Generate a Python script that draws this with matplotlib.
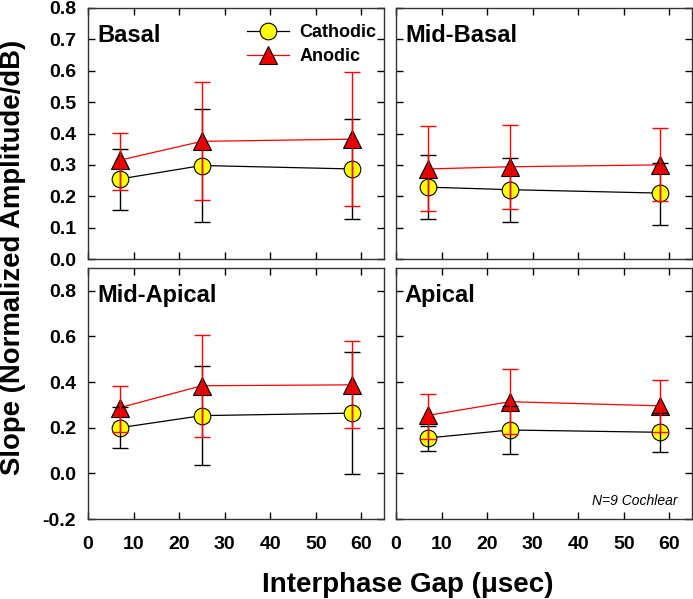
import numpy as np
import matplotlib.pyplot as plt

plt.rcParams['font.family'] = ['Liberation Sans', 'DejaVu Sans']
plt.rcParams['font.weight'] = 'bold'

ipg = [7, 25, 58]
regions = ['Basal', 'Mid-Basal', 'Mid-Apical', 'Apical']

# mean, lower end, upper end of error bars
cath_mean = [[0.255, 0.298, 0.287], [0.229, 0.221, 0.210], [0.200, 0.253, 0.264], [0.155, 0.190, 0.180]]
cath_low = [[0.157, 0.119, 0.127], [0.128, 0.119, 0.109], [0.111, 0.036, -0.001], [0.098, 0.086, 0.092]]
cath_high = [[0.350, 0.479, 0.446], [0.331, 0.322, 0.305], [0.289, 0.470, 0.530], [0.209, 0.294, 0.266]]
anod_mean = [[0.315, 0.375, 0.382], [0.287, 0.294, 0.300], [0.288, 0.384, 0.388], [0.254, 0.314, 0.296]]
anod_low = [[0.221, 0.187, 0.168], [0.152, 0.159, 0.184], [0.181, 0.159, 0.197], [0.149, 0.172, 0.182]]
anod_high = [[0.401, 0.564, 0.597], [0.423, 0.427, 0.417], [0.384, 0.607, 0.580], [0.350, 0.458, 0.409]]

W, H = 693, 599
fig = plt.figure(figsize=(W/100, H/100), dpi=100)

# panel boxes in pixels: left, top, right, bottom
boxes = [(88, 8, 384, 259), (396, 8, 692, 259), (88, 268, 384, 519), (396, 268, 692, 519)]

for k in range(4):
    l, t, r, b = boxes[k]
    ax = fig.add_axes([l/W, 1-b/H, (r-l)/W, (b-t)/H])
    cm = np.array(cath_mean[k]); am = np.array(anod_mean[k])
    cerr = [cm-np.array(cath_low[k]), np.array(cath_high[k])-cm]
    aerr = [am-np.array(anod_low[k]), np.array(anod_high[k])-am]
    h1, = ax.plot(ipg, cm, '-o', color='black', lw=0.9, marker='o', ms=12,
                  mfc='#ffff00', mec='black', mew=0.8, zorder=3, label='Cathodic')
    h2, = ax.plot(ipg, am, '-^', color='red', lw=0.9, marker='^', ms=13,
                  mfc='#ee0000', mec='black', mew=0.8, zorder=4, label='Anodic')
    ax.errorbar(ipg, cm, yerr=cerr, fmt='none', ecolor='black', elinewidth=1, capsize=6, capthick=1, zorder=5)
    ax.errorbar(ipg, am, yerr=aerr, fmt='none', ecolor='red', elinewidth=1, capsize=6, capthick=1, zorder=6)
    ax.set_xlim(0, 65)
    ax.set_xticks([0, 10, 20, 30, 40, 50, 60])
    if k < 2:
        ax.set_ylim(0, 0.8)
        ax.set_yticks(np.arange(0, 0.81, 0.1))
        ax.set_xticklabels([])
    else:
        ax.set_ylim(-0.2, 0.9)
        ax.set_yticks(np.arange(-0.2, 0.81, 0.2))
    ax.yaxis.set_major_formatter(plt.FormatStrFormatter('%.1f'))
    if k % 2 == 1:
        ax.set_yticklabels([])
    ax.tick_params(direction='in', top=True, right=True, length=5, width=1, labelsize=14)
    ax.tick_params(axis='x', pad=12.5)
    ax.tick_params(axis='y', pad=8.5)
    for sp in ax.spines.values():
        sp.set_linewidth(1)
        sp.set_color('#333333')
    ax.text(0.03, 0.935, regions[k], transform=ax.transAxes, fontsize=17, fontweight='bold', va='top', ha='left')
    if k == 0:
        ax.legend(handles=[h1, h2], loc='upper right', bbox_to_anchor=(1.03, 1.0), frameon=False,
                  fontsize=13, handlelength=2.3, handletextpad=0.6, labelspacing=0.4)
    if k == 3:
        ax.text(0.95, 0.07, 'N=9 Cochlear', transform=ax.transAxes, fontsize=10, fontstyle='italic',
                fontweight='normal', ha='right', va='center')

fig.text(408/W, 1-585/H, 'Interphase Gap (\u03bcsec)', ha='center', va='center', fontsize=20, fontweight='bold')
fig.text(13/W, 1-257/H, 'Slope (Normalized Amplitude/dB)', ha='center', va='center', rotation=90,
         fontsize=19.8, fontweight='bold')

fig.savefig('out.png', dpi=100)
